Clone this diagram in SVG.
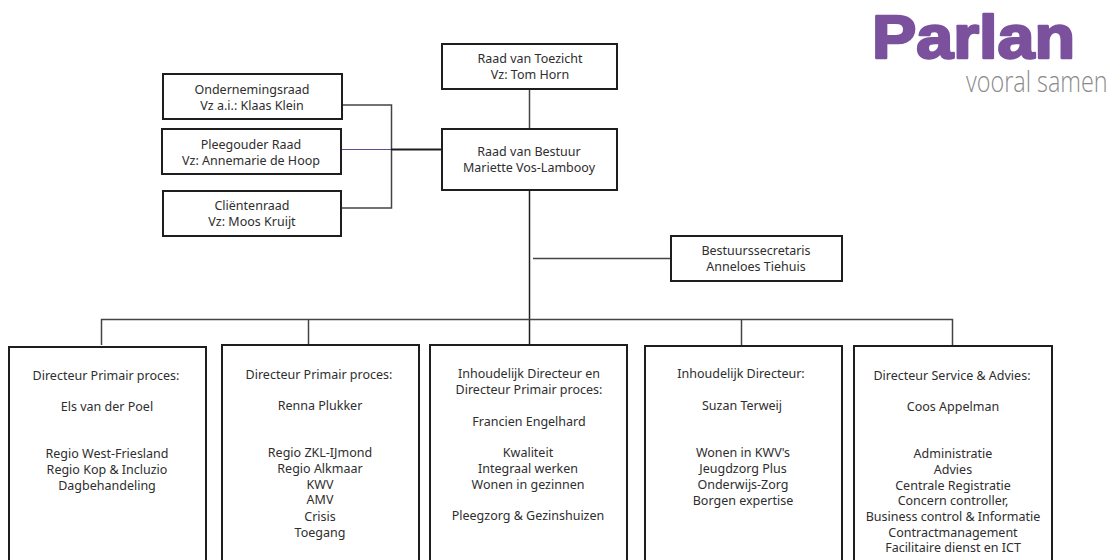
<svg xmlns="http://www.w3.org/2000/svg" width="1109" height="560" viewBox="0 0 1109 560">
<style>
.b{fill:#fff;stroke:#1e1e1e;stroke-width:2}
.t{font-family:"Noto Sans","Open Sans","DejaVu Sans",sans-serif;font-size:12.5px;fill:#2e2e2e;text-anchor:middle}
.c{fill:none;stroke:#444;stroke-width:1.5}
.k{fill:none;stroke:#1e1e1e;stroke-width:2}
</style>
<rect width="1109" height="560" fill="#fff"/>
<g id="connectors">
<path class="c" d="M342 105H391.500V208H342"/>
<path fill="none" stroke="#6b4a94" stroke-width="1" d="M342 149.500H391"/>
<path class="k" d="M391 149.500H442"/>
<path class="c" d="M529.500 89V129"/>
<path class="k" d="M529.500 190V345" style="stroke-width:1.500"/>
<path class="c" d="M533 258.500H671"/>
<path class="c" d="M101.500 345V319.500H952.500V345"/>
<path class="c" d="M308.500 319.500V344"/>
<path class="c" d="M741.500 319.500V345"/>
</g>
<g id="logo">
<text x="872" y="58" style="font-family:'Liberation Sans',Arial,sans-serif;font-weight:700;font-size:62px;fill:#7b519d;stroke:#7b519d;stroke-width:2.500px;stroke-linejoin:round" textLength="203" lengthAdjust="spacingAndGlyphs">Parlan</text>
<text transform="translate(966 92) scale(.78 1)" style="font-family:'Open Sans','Noto Sans',sans-serif;font-weight:300;font-size:30px;fill:#8a8a8a">vooral samen</text>
</g>
<g id="raad-van-toezicht"><rect class="b" x="442" y="44" width="175" height="45"/>
<text class="t" x="530" y="63">Raad van Toezicht</text><text class="t" x="530" y="79">Vz: Tom Horn</text></g>
<g id="ondernemingsraad"><rect class="b" x="163" y="74" width="179" height="45"/>
<text class="t" x="252" y="94">Ondernemingsraad</text><text class="t" x="252" y="110">Vz a.i.: Klaas Klein</text></g>
<g id="pleegouder-raad"><rect class="b" x="162" y="129" width="179" height="45"/>
<text class="t" x="251" y="149">Pleegouder Raad</text><text class="t" x="251" y="165">Vz: Annemarie de Hoop</text></g>
<g id="clientenraad"><rect class="b" x="163" y="191" width="178" height="45"/>
<text class="t" x="252" y="210">Cliëntenraad</text><text class="t" x="252" y="226">Vz: Moos Kruijt</text></g>
<g id="raad-van-bestuur"><rect class="b" x="442" y="129" width="175" height="61"/>
<text class="t" x="529" y="156">Raad van Bestuur</text><text class="t" x="529" y="172">Mariette Vos-Lambooy</text></g>
<g id="bestuurssecretaris"><rect class="b" x="671" y="236" width="171" height="45"/>
<text class="t" x="756" y="255">Bestuurssecretaris</text><text class="t" x="756" y="271">Anneloes Tiehuis</text></g>
<g id="directeur-1"><rect class="b" x="9" y="347" width="197" height="230"/>
<text class="t" x="106" y="380">Directeur Primair proces:</text>
<text class="t" x="107" y="411">Els van der Poel</text>
<text class="t" x="107" y="458">Regio West-Friesland</text>
<text class="t" x="107" y="474">Regio Kop &amp; Incluzio</text>
<text class="t" x="107" y="490">Dagbehandeling</text></g>
<g id="directeur-2"><rect class="b" x="222" y="345" width="197" height="230"/>
<text class="t" x="319" y="379">Directeur Primair proces:</text>
<text class="t" x="320" y="410">Renna Plukker</text>
<text class="t" x="320" y="457">Regio ZKL-IJmond</text>
<text class="t" x="320" y="473">Regio Alkmaar</text>
<text class="t" x="320" y="489">KWV</text>
<text class="t" x="320" y="504">AMV</text>
<text class="t" x="320" y="521">Crisis</text>
<text class="t" x="320" y="537">Toegang</text></g>
<g id="directeur-3"><rect class="b" x="430" y="345" width="197" height="230"/>
<text class="t" x="529" y="378">Inhoudelijk Directeur en</text>
<text class="t" x="529" y="394">Directeur Primair proces:</text>
<text class="t" x="529" y="426">Francien Engelhard</text>
<text class="t" x="528" y="457">Kwaliteit</text>
<text class="t" x="528" y="473">Integraal werken</text>
<text class="t" x="528" y="489">Wonen in gezinnen</text>
<text class="t" x="528" y="520">Pleegzorg &amp; Gezinshuizen</text></g>
<g id="directeur-4"><rect class="b" x="645" y="346" width="197" height="230"/>
<text class="t" x="741" y="378">Inhoudelijk Directeur:</text>
<text class="t" x="742" y="410">Suzan Terweij</text>
<text class="t" x="743" y="457">Wonen in KWV's</text>
<text class="t" x="743" y="473">Jeugdzorg Plus</text>
<text class="t" x="743" y="489">Onderwijs-Zorg</text>
<text class="t" x="743" y="505">Borgen expertise</text></g>
<g id="directeur-5"><rect class="b" x="854" y="346" width="198" height="230"/>
<text class="t" x="952" y="380">Directeur Service &amp; Advies:</text>
<text class="t" x="953" y="411">Coos Appelman</text>
<text class="t" x="953" y="458">Administratie</text>
<text class="t" x="953" y="474">Advies</text>
<text class="t" x="953" y="490">Centrale Registratie</text>
<text class="t" x="953" y="505">Concern controller,</text>
<text class="t" x="953" y="521">Business control &amp; Informatie</text>
<text class="t" x="953" y="537">Contractmanagement</text>
<text class="t" x="953" y="552">Facilitaire dienst en ICT</text></g>
</svg>
